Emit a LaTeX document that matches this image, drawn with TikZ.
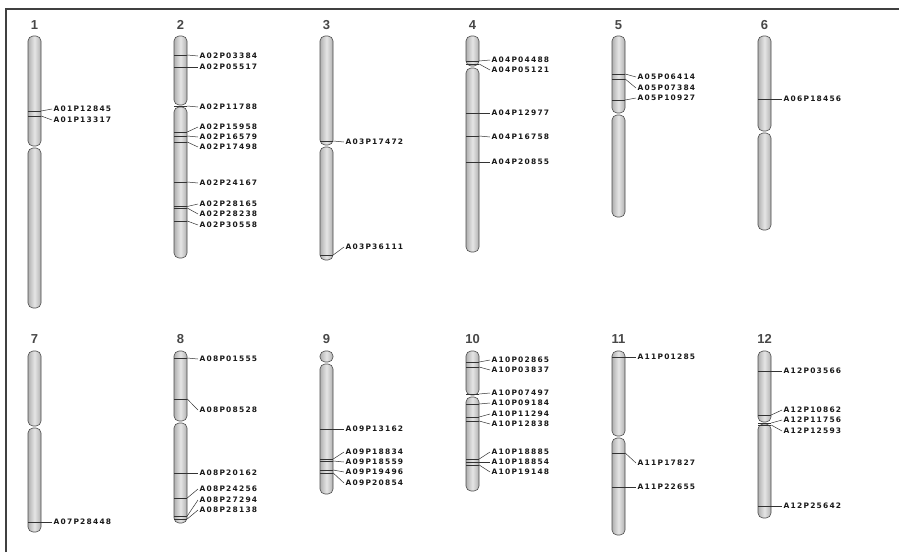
\documentclass[tikz,border=0pt]{standalone}
\usepackage{fontspec}
\newfontfamily\lblfont[LetterSpace=16]{DejaVu Sans}
\newfontfamily\numfont{Liberation Sans}

\begin{document}
\begin{tikzpicture}[x=1pt, y=-1pt,
  chrom/.style={draw=gray!60!black, line width=0.6pt, rounded corners=5pt,
                left color=gray!62, right color=gray!62, middle color=gray!20},
  band/.style={rectangle, fill=black!80, inner sep=0pt,
               minimum width=13pt, minimum height=0.8pt},
  lead/.style={line width=0.5pt, draw=black!80},
  mk/.style={anchor=west, inner xsep=1.5pt, inner ysep=0pt, text=black!90,
             font=\lblfont\bfseries\fontsize{7.5}{8}\selectfont},
  num/.style={font=\numfont\bfseries\fontsize{13}{13}\selectfont, text=black!72},
]
\useasboundingbox (0,0) rectangle (899,552);
\draw[line width=1.2pt, black!75] (6,552) -- (6,9) -- (899,9);

\node[num] (chr1)  at (34.5,25)  {1};
\node[num] (chr2)  at (180.5,25) {2};
\node[num] (chr3)  at (326.5,25) {3};
\node[num] (chr4)  at (472.5,25) {4};
\node[num] (chr5)  at (618.5,25) {5};
\node[num] (chr6)  at (764.5,25) {6};
\node[num] (chr7)  at (34.5,339)  {7};
\node[num] (chr8)  at (180.5,339) {8};
\node[num] (chr9)  at (326.5,339) {9};
\node[num] (chr10) at (472.5,339) {10};
\node[num] (chr11) at (618.5,339) {11};
\node[num] (chr12) at (764.5,339) {12};

\path[chrom] (28,36) rectangle (41,146);   \path[chrom] (28,148) rectangle (41,308);
\path[chrom] (174,36) rectangle (187,105); \path[chrom] (174,107) rectangle (187,258);
\path[chrom] (320,36) rectangle (333,145); \path[chrom] (320,147) rectangle (333,260);
\path[chrom] (466,36) rectangle (479,66);  \path[chrom] (466,68) rectangle (479,252);
\path[chrom] (612,36) rectangle (625,113); \path[chrom] (612,115) rectangle (625,217);
\path[chrom] (758,36) rectangle (771,131); \path[chrom] (758,133) rectangle (771,230);
\path[chrom] (28,351) rectangle (41,426);  \path[chrom] (28,428) rectangle (41,532);
\path[chrom] (174,351) rectangle (187,421); \path[chrom] (174,423) rectangle (187,523);
\path[chrom] (320,351) rectangle (333,362); \path[chrom] (320,364) rectangle (333,494);
\path[chrom] (466,351) rectangle (479,395); \path[chrom] (466,397) rectangle (479,491);
\path[chrom] (612,351) rectangle (625,436); \path[chrom] (612,438) rectangle (625,535);
\path[chrom] (758,351) rectangle (771,422); \path[chrom] (758,424) rectangle (771,518);

% chromosome 1
\node[band] (b1a) at (34.5,111) {}; \node[mk] (m1a) at (52,109) {A01P12845};
\node[band] (b1b) at (34.5,116) {}; \node[mk] (m1b) at (52,120) {A01P13317};
\draw[lead] (b1a.east) -- (m1a.west);
\draw[lead] (b1b.east) -- (m1b.west);

% chromosome 2
\node[band] (b2a) at (180.5,55)  {}; \node[mk] (m2a) at (198,56)  {A02P03384};
\node[band] (b2b) at (180.5,67)  {}; \node[mk] (m2b) at (198,67)  {A02P05517};
\node[band] (b2c) at (180.5,106) {}; \node[mk] (m2c) at (198,107) {A02P11788};
\node[band] (b2d) at (180.5,132) {}; \node[mk] (m2d) at (198,127) {A02P15958};
\node[band] (b2e) at (180.5,136) {}; \node[mk] (m2e) at (198,137) {A02P16579};
\node[band] (b2f) at (180.5,142) {}; \node[mk] (m2f) at (198,147) {A02P17498};
\node[band] (b2g) at (180.5,182) {}; \node[mk] (m2g) at (198,183) {A02P24167};
\node[band] (b2h) at (180.5,206.5) {}; \node[mk] (m2h) at (198,204) {A02P28165};
\node[band] (b2i) at (180.5,208) {}; \node[mk] (m2i) at (198,214) {A02P28238};
\node[band] (b2j) at (180.5,221) {}; \node[mk] (m2j) at (198,225) {A02P30558};
\draw[lead] (b2a.east) -- (m2a.west);
\draw[lead] (b2b.east) -- (m2b.west);
\draw[lead] (b2c.east) -- (m2c.west);
\draw[lead] (b2d.east) -- (m2d.west);
\draw[lead] (b2e.east) -- (m2e.west);
\draw[lead] (b2f.east) -- (m2f.west);
\draw[lead] (b2g.east) -- (m2g.west);
\draw[lead] (b2h.east) -- (m2h.west);
\draw[lead] (b2i.east) -- (m2i.west);
\draw[lead] (b2j.east) -- (m2j.west);

% chromosome 3
\node[band] (b3a) at (326.5,141) {}; \node[mk] (m3a) at (344,142) {A03P17472};
\node[band] (b3b) at (326.5,255) {}; \node[mk] (m3b) at (344,247) {A03P36111};
\draw[lead] (b3a.east) -- (m3a.west);
\draw[lead] (b3b.east) -- (m3b.west);

% chromosome 4
\node[band] (b4a) at (472.5,61)  {}; \node[mk] (m4a) at (490,60)  {A04P04488};
\node[band] (b4b) at (472.5,64)  {}; \node[mk] (m4b) at (490,70)  {A04P05121};
\node[band] (b4c) at (472.5,113) {}; \node[mk] (m4c) at (490,113) {A04P12977};
\node[band] (b4d) at (472.5,136) {}; \node[mk] (m4d) at (490,137) {A04P16758};
\node[band] (b4e) at (472.5,162) {}; \node[mk] (m4e) at (490,162) {A04P20855};
\draw[lead] (b4a.east) -- (m4a.west);
\draw[lead] (b4b.east) -- (m4b.west);
\draw[lead] (b4c.east) -- (m4c.west);
\draw[lead] (b4d.east) -- (m4d.west);
\draw[lead] (b4e.east) -- (m4e.west);

% chromosome 5
\node[band] (b5a) at (618.5,74)  {}; \node[mk] (m5a) at (636,77) {A05P06414};
\node[band] (b5b) at (618.5,79)  {}; \node[mk] (m5b) at (636,88) {A05P07384};
\node[band] (b5c) at (618.5,100) {}; \node[mk] (m5c) at (636,98) {A05P10927};
\draw[lead] (b5a.east) -- (m5a.west);
\draw[lead] (b5b.east) -- (m5b.west);
\draw[lead] (b5c.east) -- (m5c.west);

% chromosome 6
\node[band] (b6a) at (764.5,99) {}; \node[mk] (m6a) at (782,99) {A06P18456};
\draw[lead] (b6a.east) -- (m6a.west);

% chromosome 7
\node[band] (b7a) at (34.5,522) {}; \node[mk] (m7a) at (52,522) {A07P28448};
\draw[lead] (b7a.east) -- (m7a.west);

% chromosome 8
\node[band] (b8a) at (180.5,358) {}; \node[mk] (m8a) at (198,359) {A08P01555};
\node[band] (b8b) at (180.5,399) {}; \node[mk] (m8b) at (198,410) {A08P08528};
\node[band] (b8c) at (180.5,473) {}; \node[mk] (m8c) at (198,473) {A08P20162};
\node[band] (b8d) at (180.5,498) {}; \node[mk] (m8d) at (198,489) {A08P24256};
\node[band] (b8e) at (180.5,516) {}; \node[mk] (m8e) at (198,500) {A08P27294};
\node[band] (b8f) at (180.5,519) {}; \node[mk] (m8f) at (198,510) {A08P28138};
\draw[lead] (b8a.east) -- (m8a.west);
\draw[lead] (b8b.east) -- (m8b.west);
\draw[lead] (b8c.east) -- (m8c.west);
\draw[lead] (b8d.east) -- (m8d.west);
\draw[lead] (b8e.east) -- (m8e.west);
\draw[lead] (b8f.east) -- (m8f.west);

% chromosome 9
\node[band] (b9a) at (326.5,429) {}; \node[mk] (m9a) at (344,429) {A09P13162};
\node[band] (b9b) at (326.5,459) {}; \node[mk] (m9b) at (344,452) {A09P18834};
\node[band] (b9c) at (326.5,461) {}; \node[mk] (m9c) at (344,462) {A09P18559};
\node[band] (b9d) at (326.5,470) {}; \node[mk] (m9d) at (344,472) {A09P19496};
\node[band] (b9e) at (326.5,473) {}; \node[mk] (m9e) at (344,483) {A09P20854};
\draw[lead] (b9a.east) -- (m9a.west);
\draw[lead] (b9b.east) -- (m9b.west);
\draw[lead] (b9c.east) -- (m9c.west);
\draw[lead] (b9d.east) -- (m9d.west);
\draw[lead] (b9e.east) -- (m9e.west);

% chromosome 10
\node[band] (b10a) at (472.5,362) {}; \node[mk] (m10a) at (490,360) {A10P02865};
\node[band] (b10b) at (472.5,367) {}; \node[mk] (m10b) at (490,370) {A10P03837};
\node[band] (b10c) at (472.5,394) {}; \node[mk] (m10c) at (490,393) {A10P07497};
\node[band] (b10d) at (472.5,404) {}; \node[mk] (m10d) at (490,403) {A10P09184};
\node[band] (b10e) at (472.5,417) {}; \node[mk] (m10e) at (490,414) {A10P11294};
\node[band] (b10f) at (472.5,421) {}; \node[mk] (m10f) at (490,424) {A10P12838};
\node[band] (b10g) at (472.5,459) {}; \node[mk] (m10g) at (490,452) {A10P18885};
\node[band] (b10h) at (472.5,462) {}; \node[mk] (m10h) at (490,462) {A10P18854};
\node[band] (b10i) at (472.5,465) {}; \node[mk] (m10i) at (490,472) {A10P19148};
\draw[lead] (b10a.east) -- (m10a.west);
\draw[lead] (b10b.east) -- (m10b.west);
\draw[lead] (b10c.east) -- (m10c.west);
\draw[lead] (b10d.east) -- (m10d.west);
\draw[lead] (b10e.east) -- (m10e.west);
\draw[lead] (b10f.east) -- (m10f.west);
\draw[lead] (b10g.east) -- (m10g.west);
\draw[lead] (b10h.east) -- (m10h.west);
\draw[lead] (b10i.east) -- (m10i.west);

% chromosome 11
\node[band] (b11a) at (618.5,357) {}; \node[mk] (m11a) at (636,357) {A11P01285};
\node[band] (b11b) at (618.5,453) {}; \node[mk] (m11b) at (636,463) {A11P17827};
\node[band] (b11c) at (618.5,487) {}; \node[mk] (m11c) at (636,487) {A11P22655};
\draw[lead] (b11a.east) -- (m11a.west);
\draw[lead] (b11b.east) -- (m11b.west);
\draw[lead] (b11c.east) -- (m11c.west);

% chromosome 12
\node[band] (b12a) at (764.5,371) {}; \node[mk] (m12a) at (782,371) {A12P03566};
\node[band] (b12b) at (764.5,415) {}; \node[mk] (m12b) at (782,410) {A12P10862};
\node[band] (b12c) at (764.5,423) {}; \node[mk] (m12c) at (782,420) {A12P11756};
\node[band] (b12d) at (764.5,425) {}; \node[mk] (m12d) at (782,431) {A12P12593};
\node[band] (b12e) at (764.5,506) {}; \node[mk] (m12e) at (782,506) {A12P25642};
\draw[lead] (b12a.east) -- (m12a.west);
\draw[lead] (b12b.east) -- (m12b.west);
\draw[lead] (b12c.east) -- (m12c.west);
\draw[lead] (b12d.east) -- (m12d.west);
\draw[lead] (b12e.east) -- (m12e.west);
\end{tikzpicture}
\end{document}
